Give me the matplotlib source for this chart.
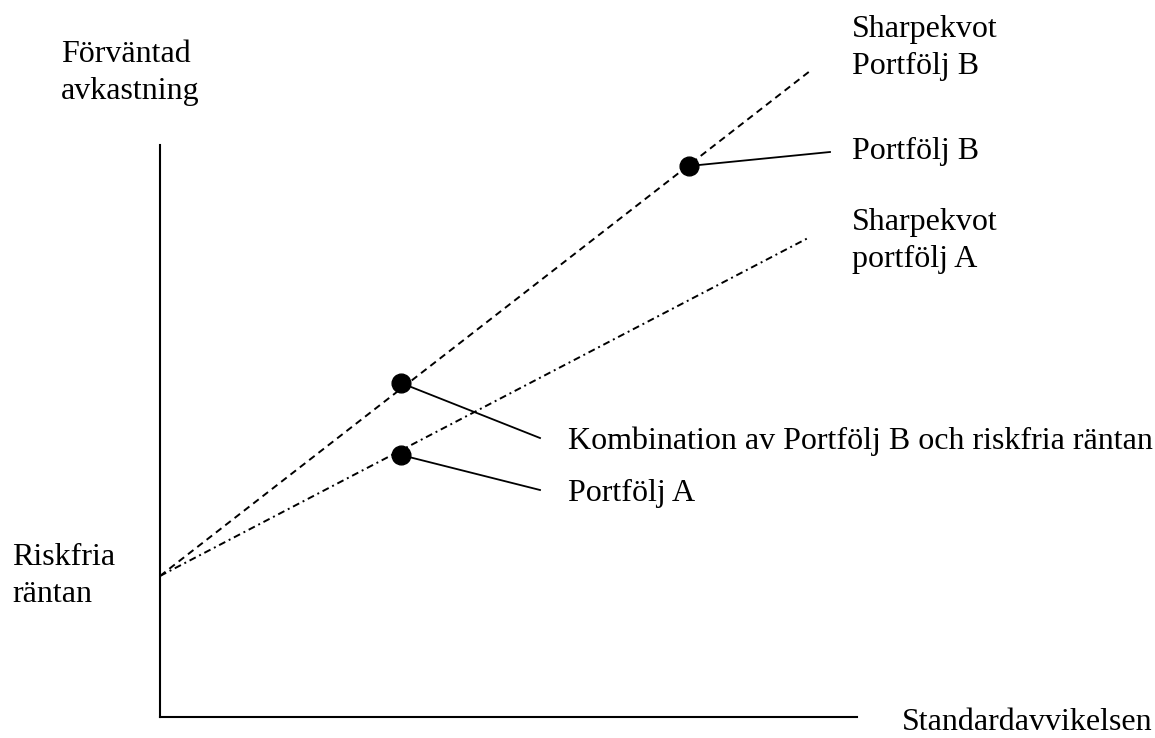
import matplotlib
matplotlib.use("Agg")
import matplotlib.pyplot as plt

plt.rcParams['font.family'] = ['Liberation Serif', 'DejaVu Serif']
plt.rcParams['lines.scale_dashes'] = False

# Conceptual data (standard deviation, expected return)
risk_free = 1.41
sigma_end = 6.50
line_b_end = 6.46   # Sharpe line of portfolio B at sigma_end
line_a_end = 4.80   # Sharpe line of portfolio A at sigma_end
portfolio_b = (5.29, 5.51)
portfolio_a = (2.41, 2.62)
combination = (2.41, 3.34)
x_axis_len = 6.97
y_axis_len = 5.72

fig = plt.figure(figsize=(11.55, 7.38), dpi=100)
ax = fig.add_axes([0, 0, 1, 1])
ax.set_xlim(-1.60, 9.95)
ax.set_ylim(-0.21, 7.17)

for s in ['top', 'right']:
    ax.spines[s].set_visible(False)
ax.spines['left'].set_position(('data', 0))
ax.spines['bottom'].set_position(('data', 0))
ax.spines['left'].set_bounds(0, y_axis_len)
ax.spines['bottom'].set_bounds(0, x_axis_len)
ax.spines['left'].set_linewidth(1.5)
ax.spines['bottom'].set_linewidth(1.5)
ax.set_xticks([])
ax.set_yticks([])
ax.patch.set_alpha(0)

# Sharpe lines
ax.plot([0, sigma_end], [risk_free, line_b_end], color='black', lw=1.4,
        linestyle=(0, (5.0, 3.5)))
ax.plot([0, sigma_end], [risk_free, line_a_end], color='black', lw=1.4,
        linestyle=(0, (5.0, 2.8, 1.4, 2.8)))

# Points
for p in [portfolio_b, portfolio_a, combination]:
    ax.plot(p[0], p[1], 'o', color='black', markersize=13.5, zorder=5)

fs = 23
ls = 1.38
dy = -0.03
# Leader lines + labels
def label(pt, end, text_x, text_y, text):
    ax.plot([pt[0], end[0]], [pt[1], end[1]], color='black', lw=1.3)
    ax.text(text_x, text_y + dy, text, fontsize=fs, va='center', ha='left')

label(portfolio_b, (6.70, 5.65), 6.92, 5.69, 'Portfölj B')
label(combination, (3.80, 2.79), 4.08, 2.79, 'Kombination av Portfölj B och riskfria räntan')
label(portfolio_a, (3.80, 2.27), 4.08, 2.27, 'Portfölj A')

ax.text(6.92, 6.72 + dy, 'Sharpekvot\nPortfölj B', fontsize=fs, va='center', ha='left', linespacing=ls)
ax.text(6.92, 4.79 + dy, 'Sharpekvot\nportfölj A', fontsize=fs, va='center', ha='left', linespacing=ls)
ax.text(-1.48, 1.44 + dy, 'Riskfria\nräntan', fontsize=fs, va='center', ha='left', linespacing=ls)
ax.text(-0.99, 6.47 + dy, 'Förväntad\navkastning', fontsize=fs, va='center', ha='left', linespacing=ls)
ax.text(7.42, -0.06, 'Standardavvikelsen', fontsize=fs, va='center', ha='left')

fig.savefig('out.png', dpi=100, facecolor='white')
